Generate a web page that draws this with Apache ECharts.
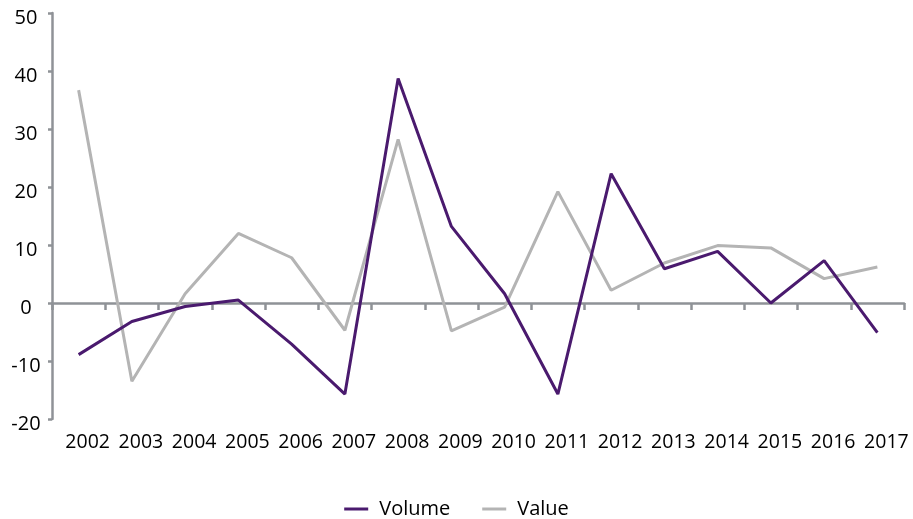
<!DOCTYPE html>
<html>
<head>
<meta charset="utf-8">
<script src="https://cdn.jsdelivr.net/npm/echarts@6/dist/echarts.min.js"></script>
<style>
  html, body { margin: 0; padding: 0; background: #fff; }
  #chart { width: 913px; height: 519px; }
</style>
</head>
<body>
<div id="chart"></div>
<script>
// Year-on-year change, %
const years = ['2002','2003','2004','2005','2006','2007','2008','2009','2010','2011','2012','2013','2014','2015','2016','2017'];
const volume = [-8.9, -3.2, -0.6, 0.5, -7.1, -15.7, 38.7, 13.2, 1.6, -15.7, 22.3, 5.9, 8.9, 0.0, 7.3, -5.1];
const value  = [36.7, -13.5, 1.6, 12.0, 7.8, -4.7, 28.2, -4.8, -0.7, 19.2, 2.2, 6.9, 9.9, 9.5, 4.2, 6.2];
const yTicks = { min: -20, max: 50, step: 10 };

const FONT = '"Open Sans", "DejaVu Sans", sans-serif';
const AXIS_GREY = '#8f9297';

const chart = echarts.init(document.getElementById('chart'), null, { renderer: 'canvas' });
chart.setOption({
  animation: false,
  backgroundColor: '#fff',
  grid: { left: 52, right: 9, top: 13, bottom: 100, containLabel: false, outerBoundsMode: 'none' },
  legend: {
    top: 494,
    left: 'center',
    icon: 'rect',
    itemWidth: 24,
    itemHeight: 3,
    itemGap: 32,
    textStyle: { fontFamily: FONT, fontSize: 20, color: '#000', padding: [0, 0, 0, 6] },
    data: ['Volume', 'Value']
  },
  xAxis: [
    {
      // year labels along the bottom
      type: 'category',
      data: years,
      boundaryGap: true,
      position: 'bottom',
      axisLine: { show: false, onZero: false },
      axisTick: { show: false },
      axisLabel: {
        interval: 0,
        margin: 13,
        padding: [0, 0, 0, 18],
        fontFamily: FONT, fontSize: 19.5, color: '#000'
      }
    },
    {
      // zero baseline with its ticks
      type: 'category',
      data: years,
      boundaryGap: true,
      position: 'top',
      axisLine: { show: true, onZero: true, lineStyle: { color: AXIS_GREY, width: 2.5 } },
      axisTick: { show: true, inside: true, length: 7, interval: 0, lineStyle: { color: AXIS_GREY, width: 2.5 } },
      axisLabel: { show: false }
    }
  ],
  yAxis: {
    type: 'value',
    min: yTicks.min,
    max: yTicks.max,
    interval: yTicks.step,
    splitLine: { show: false },
    axisLine: { show: true, onZero: false, lineStyle: { color: AXIS_GREY, width: 2.5 } },
    axisTick: { show: true, length: 4, lineStyle: { color: AXIS_GREY, width: 2.5 } },
    axisLabel: {
      margin: 26,
      align: 'center',
      formatter: '{v|{value}}',
      rich: {
        v: {
          fontFamily: FONT, fontSize: 20, color: '#000',
          lineHeight: 20,
          padding: [10, 0, 0, 0]
        }
      }
    }
  },
  series: [
    {
      name: 'Volume',
      type: 'line',
      data: volume,
      xAxisIndex: 0,
      showSymbol: false,
      symbol: 'none',
      z: 3,
      lineStyle: { color: '#4a1a6e', width: 3 },
      itemStyle: { color: '#4a1a6e' }
    },
    {
      name: 'Value',
      type: 'line',
      data: value,
      xAxisIndex: 0,
      showSymbol: false,
      symbol: 'none',
      z: 2,
      lineStyle: { color: '#b4b4b4', width: 3 },
      itemStyle: { color: '#b4b4b4' }
    }
  ]
});
</script>
</body>
</html>
